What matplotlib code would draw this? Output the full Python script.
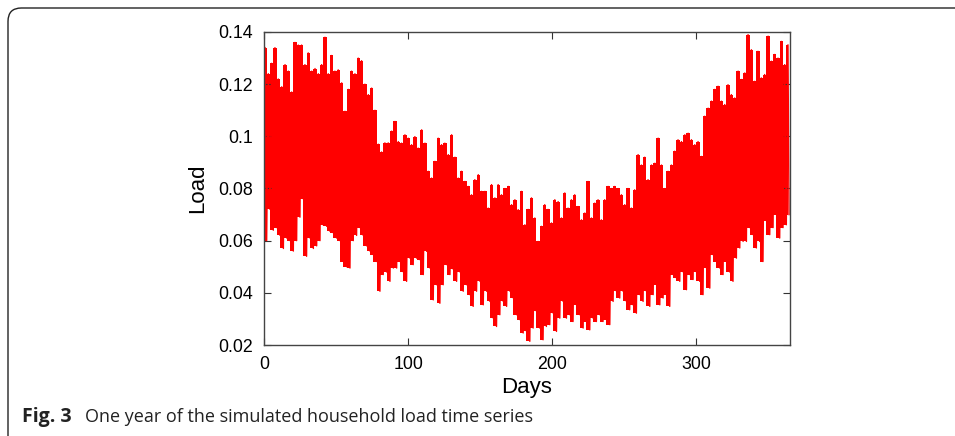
import numpy as np
import matplotlib
matplotlib.use("Agg")
import matplotlib.pyplot as plt
from matplotlib.patches import FancyBboxPatch

# envelope of the load series (day, daily peak, daily trough)
days = [0.7, 3.0, 5.3, 7.6, 9.9, 12.3, 14.6, 16.9, 19.2, 21.5, 23.8, 26.1, 28.4, 30.7,
        33.1, 35.4, 37.7, 40.0, 42.3, 44.6, 46.9, 49.2, 51.5, 53.9, 56.2, 58.5, 60.8,
        63.1, 65.4, 67.7, 70.0, 72.4, 74.7, 77.0, 79.3, 81.6, 83.9, 86.2,
        88.6, 90.9, 93.2, 95.5, 97.8, 100.1, 102.4, 104.7, 107.0, 109.4, 111.7, 114.0,
        116.3, 118.6, 120.9, 123.2, 125.5, 127.9, 130.2, 132.5, 134.8, 137.1, 139.4,
        141.7, 144.0, 146.3, 148.7, 151.0, 153.3, 155.6, 157.9, 160.2, 162.5, 164.8,
        167.2, 169.5, 171.8, 174.1, 176.4,
        178.7, 181.0, 183.3, 185.6, 187.9, 190.2, 192.5, 194.8, 197.1, 199.5, 201.8,
        204.1, 206.4, 208.7, 211.0, 213.3, 215.6, 217.9, 220.3, 222.6, 224.9, 227.2,
        229.5, 231.8, 234.1, 236.4, 238.8, 241.1, 243.4, 245.7, 248.0, 250.3, 252.6,
        254.9, 257.2, 259.6, 261.9, 264.2, 266.5,
        268.9, 271.2, 273.5, 275.8, 278.1, 280.4, 282.7, 285.0, 287.3, 289.7, 292.0,
        294.3, 296.6, 298.9, 301.2, 303.5, 305.8, 308.2, 310.5, 312.8, 315.1, 317.4,
        319.7, 322.0, 324.3, 326.6, 329.0, 331.3, 333.6, 335.9, 338.2, 340.5, 342.8,
        345.1, 347.4, 349.8, 352.1, 354.4, 356.7, 359.0, 361.3, 363.6]

peak = [0.134, 0.124, 0.128, 0.134, 0.122, 0.119, 0.1275, 0.125, 0.117, 0.136, 0.135,
        0.135, 0.1275, 0.132, 0.125, 0.126, 0.124, 0.1275, 0.138, 0.124, 0.131, 0.125,
        0.1255, 0.1205, 0.1096, 0.118, 0.125, 0.124, 0.130, 0.129, 0.120, 0.116, 0.1185,
        0.110, 0.097, 0.094, 0.0975, 0.0975,
        0.102, 0.1057, 0.098, 0.0974, 0.1006, 0.0993, 0.0968, 0.0999, 0.0955, 0.1025,
        0.0974, 0.0866, 0.084, 0.0904, 0.0993, 0.0968, 0.0974, 0.093, 0.1006, 0.092,
        0.084, 0.0866, 0.0827, 0.0808, 0.0776, 0.0834, 0.0853, 0.0789, 0.0789, 0.0725,
        0.0815, 0.0764, 0.0815, 0.0776, 0.080, 0.0808, 0.0738, 0.0757, 0.0719,
        0.0789, 0.0661, 0.072, 0.0764, 0.0687, 0.0597, 0.0655, 0.0738, 0.072, 0.0668,
        0.0757, 0.075, 0.0687, 0.0783, 0.0725, 0.0757, 0.0776, 0.0731, 0.068, 0.0706,
        0.0827, 0.0687, 0.0744, 0.0757, 0.068, 0.0757, 0.0808, 0.080, 0.0808, 0.080,
        0.0776, 0.0738, 0.080, 0.0725, 0.0795, 0.093, 0.089, 0.092, 0.0834,
        0.089, 0.0897, 0.0993, 0.089, 0.080, 0.0866, 0.089, 0.0943, 0.0987, 0.098,
        0.1006, 0.1012, 0.0987, 0.0968, 0.098, 0.0923, 0.1077, 0.1108, 0.1135, 0.118,
        0.1192, 0.1135, 0.1122, 0.1198, 0.116, 0.1147, 0.125, 0.1218, 0.1243, 0.139,
        0.1332, 0.1211, 0.1326, 0.1224, 0.1237, 0.1384, 0.1288, 0.1314, 0.130, 0.1364,
        0.1275, 0.1351]

trough = [0.060, 0.072, 0.064, 0.065, 0.062, 0.057, 0.061, 0.060, 0.056, 0.060, 0.069,
          0.076, 0.054, 0.061, 0.057, 0.058, 0.060, 0.066, 0.0655, 0.0636, 0.063, 0.061,
          0.060, 0.052, 0.050, 0.0495, 0.060, 0.062, 0.065, 0.062, 0.058, 0.056, 0.0546,
          0.052, 0.0406, 0.047, 0.048, 0.0444,
          0.0495, 0.0495, 0.052, 0.048, 0.0444, 0.0533, 0.0508, 0.0533, 0.0527, 0.047,
          0.0559, 0.0495, 0.0373, 0.0431, 0.036, 0.0431, 0.0508, 0.047, 0.049, 0.0444,
          0.048, 0.0406, 0.0431, 0.0393, 0.0348, 0.0406, 0.0444, 0.0354, 0.0406, 0.0367,
          0.0303, 0.0271, 0.0316, 0.0367, 0.0348, 0.0406, 0.038, 0.0316, 0.0297,
          0.0246, 0.0252, 0.0214, 0.0265, 0.0329, 0.0265, 0.022, 0.0271, 0.0278, 0.0322,
          0.0252, 0.0303, 0.0367, 0.0303, 0.0316, 0.029, 0.0354, 0.0316, 0.0265, 0.029,
          0.0258, 0.0303, 0.029, 0.0316, 0.029, 0.0297, 0.0278, 0.0367, 0.0406, 0.038,
          0.0406, 0.0367, 0.0335, 0.0354, 0.0322, 0.0393, 0.0367, 0.0406, 0.0348,
          0.0393, 0.0431, 0.0354, 0.038, 0.0393, 0.0348, 0.047, 0.0457, 0.0444, 0.048,
          0.0412, 0.047, 0.0451, 0.048, 0.0444, 0.0393, 0.0495, 0.0418, 0.0546, 0.052,
          0.0495, 0.047, 0.052, 0.048, 0.0444, 0.0533, 0.0572, 0.0597, 0.0597, 0.065,
          0.0623, 0.0572, 0.0597, 0.052, 0.0676, 0.0623, 0.065, 0.070, 0.061, 0.065,
          0.0661, 0.070]

xticks = [0, 100, 200, 300]
yticks = [0.02, 0.04, 0.06, 0.08, 0.1, 0.12, 0.14]
ytick_labels = ["0.02", "0.04", "0.06", "0.08", "0.1", "0.12", "0.14"]

# zigzag peak -> trough -> peak so the edges look like the dense hourly trace
d = np.array(days)
half = np.diff(np.append(d, 365.0)) / 2
x = np.column_stack([d, d + half]).ravel()
y = np.column_stack([peak, trough]).ravel()

fig = plt.figure(figsize=(9.55, 4.36), dpi=100)

frame = FancyBboxPatch((8 / 955, -0.2), 1.2, 1.2 - 8 / 436,
                       boxstyle="round,pad=0,rounding_size=0.014",
                       transform=fig.transFigure, fill=False,
                       edgecolor="#222222", linewidth=1.0, mutation_aspect=955 / 436)
fig.patches.append(frame)

ax = fig.add_axes([264 / 955, 1 - 345 / 436, (790 - 264) / 955, (345 - 32) / 436])
ax.fill_between(days, trough, peak, step="mid", color="#ff0000", linewidth=0)
ax.plot(x, y, color="#ff0000", linewidth=1.0)

ax.set_xlim(0, 365)
ax.set_ylim(0.02, 0.14)
ax.set_xticks(xticks)
ax.set_yticks(yticks)
ax.set_yticklabels(ytick_labels)
ax.tick_params(direction="in", top=True, right=True, length=5, width=0.8,
               labelsize=12.8, colors="#333333", labelcolor="black", pad=8)
for s in ax.spines.values():
    s.set_color("#444444")
    s.set_linewidth(1.0)
for lab in ax.get_xticklabels() + ax.get_yticklabels():
    lab.set_fontfamily("Liberation Sans")

ax.set_xlabel("Days", fontsize=16, family="Liberation Sans", labelpad=3)
ax.set_ylabel("Load", fontsize=16, family="Liberation Sans", labelpad=7)

fig.text(22 / 955, 1 - 417 / 436, "Fig. 3", fontsize=14, fontweight="bold",
         family="Open Sans", va="center", ha="left", color="#222222")
fig.text(85 / 955, 1 - 417 / 436, "One year of the simulated household load time series",
         fontsize=13, family="Open Sans", va="center", ha="left", color="#222222")

fig.savefig("out.png", dpi=100)
